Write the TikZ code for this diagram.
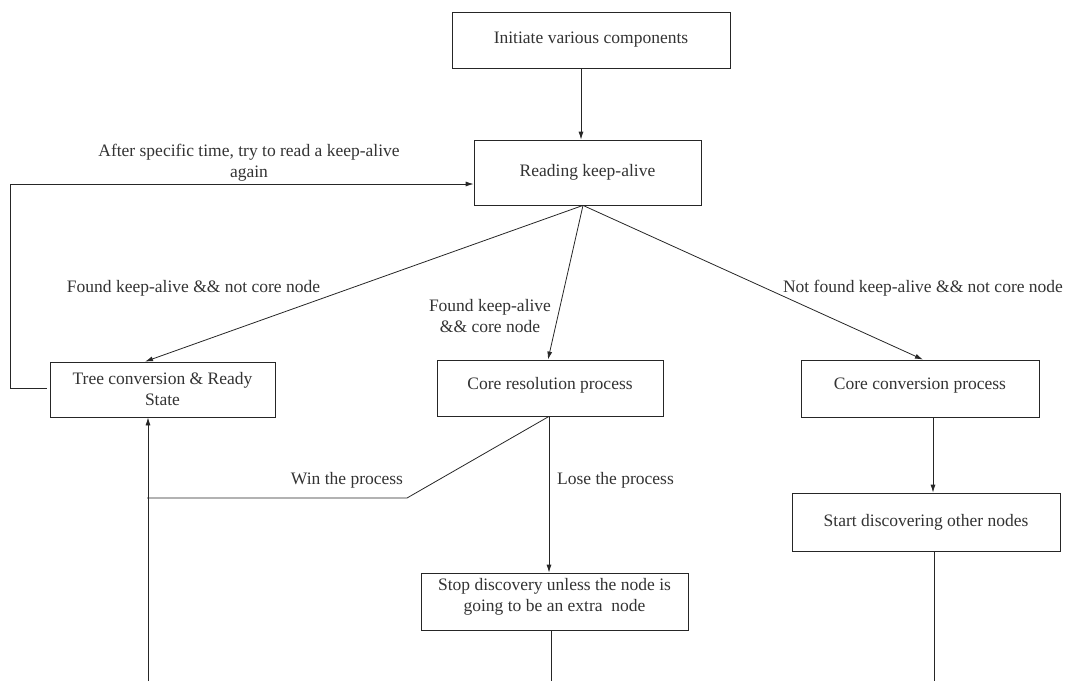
\documentclass[tikz,border=0pt]{standalone}
\usepackage{fontspec}
\setmainfont{Liberation Serif}
\usetikzlibrary{arrows.meta,calc}
\begin{document}
\begin{tikzpicture}[x=1pt,y=-1pt,
  box/.style={draw=black!85,line width=0.8pt,rectangle,inner sep=0pt,
    font=\fontsize{17.5}{21}\selectfont,text=black!80,align=center},
  lbl/.style={font=\fontsize{17.5}{21}\selectfont,text=black!80,align=center,inner sep=0pt},
  arr/.style={draw=black!85,line width=0.8pt,-{Latex[length=8pt,width=5pt]}},
  ln/.style={draw=black!85,line width=0.8pt}]
\useasboundingbox (0,0) rectangle (1066,681);
% boxes
\node[box,minimum width=278pt,minimum height=56pt] (init) at (591,40) {Initiate various components};
\node[box,minimum width=227pt,minimum height=65pt] (read) at (587.5,172.5) {Reading keep-alive};
\node[box,minimum width=225pt,minimum height=55pt] (tree) at (162.5,389.5) {Tree conversion \& Ready\\State};
\node[box,minimum width=226pt,minimum height=56pt] (res) at (550,388) {Core resolution process\\[-11pt]\mbox{}};
\node[box,minimum width=238pt,minimum height=57pt] (conv) at (920,388.5) {Core conversion process\\[-12pt]\mbox{}};
\node[box,minimum width=268pt,minimum height=58pt] (start) at (926,522) {Start discovering other nodes};
\node[box,minimum width=267pt,minimum height=57pt] (stop) at (554.5,601.5) {Stop discovery unless the node is\\going to be an extra\ \ node\\[-7pt]\mbox{}};
% labels
\node[lbl] (l1) at (249,162.5) {After specific time, try to read a keep-alive\\again};
\node[lbl] (l2) at (193.5,288) {Found keep-alive \&\& not core node};
\node[lbl] (l3) at (490,316.5) {Found keep-alive\\\&\& core node};
\node[lbl] (l4) at (923,288) {Not found keep-alive \&\& not core node};
\node[lbl] (l5) at (347,480) {Win the process};
\node[lbl,anchor=west] (l6) at (557,480) {Lose the process};
% helper coordinates
\coordinate (rk) at ($(read.south)+(-4.5,0)$);
\coordinate (fbc) at (10,184);
\coordinate (wk) at (407,498);
\coordinate (b1) at (148,681);
\coordinate (b2) at (551,681);
\coordinate (b3) at (934,681);
% connectors
\draw[arr] ($(init.south)+(-10,0)$) -- ($(read.north)+(-6.5,0)$);
\draw[arr] (rk) -- ($(tree.north)+(-17.5,0)$);
\draw[arr] (rk) -- ($(res.north)+(-2,0)$);
\draw[arr] (rk) -- ($(conv.north)+(3,0)$);
\draw[arr] ($(tree.west)+(-3,-1.5)$) -| (fbc) -- ($(read.west)+(0,11.5)$);
\draw[arr] ($(res.south)+(-1,0)$) -- ($(stop.north)+(-5.5,0)$);
\draw[ln] ($(res.south)+(-1,0)$) -- (wk) -- (wk -| 147,0);
\draw[arr] (b1) -- (b1 |- tree.south);
\draw[arr] ($(conv.south)+(13,0)$) -- ($(start.north)+(7,0)$);
\draw[ln] (b3 |- start.south) -- (b3);
\draw[ln] (b2 |- stop.south) -- (b2);
\end{tikzpicture}
\end{document}
